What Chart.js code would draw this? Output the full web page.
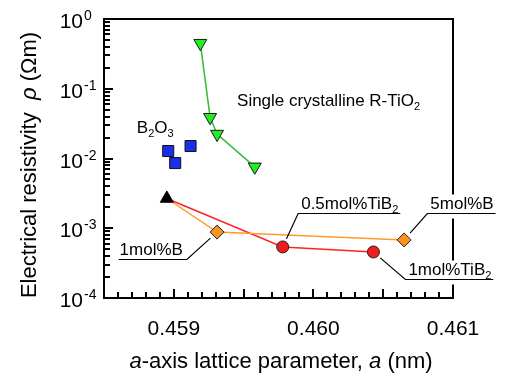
<!DOCTYPE html>
<html>
<head>
<meta charset="utf-8">
<script src="https://cdn.jsdelivr.net/npm/chart.js@4.4.0/dist/chart.umd.min.js"></script>
<style>
  body { margin: 0; background: #fff; }
</style>
</head>
<body>
<canvas id="chart" width="507" height="376"></canvas>
<script>
// a-axis lattice parameter (nm) vs electrical resistivity (Ohm m)
const singleX = [0.45919, 0.45926, 0.45931, 0.45958];
const singleY = [0.45, 0.039, 0.0224, 0.0076];
const b2o3X = [0.45896, 0.45901, 0.45912];
const b2o3Y = [0.0128, 0.0086, 0.0151];
const pureX = [0.45895];
const pureY = [0.00267];
// doped series start from the undoped point
const boronX = [0.45895, 0.45931, 0.46065];
const boronY = [0.00267, 0.00088, 0.00068];
const tib2X = [0.45895, 0.45978, 0.46043];
const tib2Y = [0.00267, 0.00054, 0.000457];

const xMin = 0.4585, xMax = 0.461;
const yDecades = [-4, -3, -2, -1, 0];

const FONT = '"Liberation Sans", Arial, sans-serif';

// text labels, placed in data coordinates; "_" marks a subscript character
const notes = [
    { text: 'B_2O_3', x: 0.458735, y: 0.0283 },
    { text: 'Single crystalline R-TiO_2', x: 0.459453, y: 0.069 },
    { text: '0.5mol%TiB_2', x: 0.459891, y: 0.001655, target: [tib2X[1], tib2Y[1]] },
    { text: '5mol%B', x: 0.460816, y: 0.001655, target: [boronX[2], boronY[2]] },
    { text: '1mol%TiB_2', x: 0.460659, y: 0.000187, target: [tib2X[2], tib2Y[2]] },
    { text: '1mol%B', x: 0.459094, y: 0.000362, target: [boronX[1], boronY[1]], alignRight: true }
];

const pts = (xs, ys) => xs.map((x, i) => ({ x: x, y: ys[i] }));

function parts(str) {
    const out = [];
    for (let i = 0; i < str.length; i++) {
        if (str[i] === '_') { out.push({ t: str[i + 1], sub: true }); i++; }
        else if (out.length && !out[out.length - 1].sub) out[out.length - 1].t += str[i];
        else out.push({ t: str[i], sub: false });
    }
    return out;
}

function drawRich(ctx, p, x, base, size) {
    let w = 0;
    p.forEach(s => {
        ctx.font = (s.sub ? Math.round(size * 0.65) : size) + 'px ' + FONT;
        if (x !== null) ctx.fillText(s.t, x + w, base + (s.sub ? 4 : 0));
        w += ctx.measureText(s.t).width;
    });
    return w;
}

const decor = {
    id: 'decor',
    afterDatasetsDraw(chart) {
        const { ctx, chartArea: a, scales: { x, y } } = chart;
        ctx.save();
        ctx.strokeStyle = '#000';
        ctx.fillStyle = '#000';
        ctx.lineWidth = 2;
        ctx.strokeRect(a.left, a.top, a.right - a.left, a.bottom - a.top);

        // ticks pointing into the plot
        const nx = Math.round((xMax - xMin) * 10000);
        for (let i = 0; i <= nx; i++) {
            const px = Math.round(x.getPixelForValue(xMin + i / 10000));
            const len = i % 5 === 0 ? 9 : 6;
            ctx.fillRect(px - 1, a.bottom - len, 2, len);
        }
        yDecades.forEach(d => {
            for (let m = 1; m <= 9; m++) {
                if (d === 0 && m > 1) break;
                const py = Math.round(y.getPixelForValue(m * Math.pow(10, d)));
                const len = m === 1 ? 9 : 6;
                ctx.fillRect(a.left, py - 1, len, 2);
            }
        });

        // y tick labels with exponents
        ctx.textBaseline = 'alphabetic';
        yDecades.forEach(d => {
            const py = y.getPixelForValue(Math.pow(10, d));
            ctx.font = '21px ' + FONT;
            ctx.textAlign = 'right';
            ctx.fillText('10', 83, py + 9);
            ctx.font = '14px ' + FONT;
            ctx.textAlign = 'left';
            ctx.fillText(String(d), 84, py + 1);
        });

        // annotations
        ctx.textAlign = 'left';
        notes.forEach(n => {
            const p = parts(n.text);
            const ax = x.getPixelForValue(n.x);
            const ay = y.getPixelForValue(n.y);
            const w = drawRich(ctx, p, null, 0, 17);
            if (!n.target) {
                drawRich(ctx, p, ax, ay + 6, 17);
                return;
            }
            const uy = Math.round(ay) + 0.5;
            let x0, x1, tx;
            if (n.alignRight) { x1 = ax; tx = ax - 4 - w; x0 = tx - 1; }
            else { x0 = ax; tx = ax + 3; x1 = tx + w + 2; }
            ctx.fillStyle = '#fff';
            ctx.fillRect(x0 - 2, uy - 19, x1 - x0 + 4, 24);
            ctx.fillStyle = '#000';
            drawRich(ctx, p, tx, uy - 5, 17);
            // leader line from the underline end toward the marker
            const mx = x.getPixelForValue(n.target[0]);
            const my = y.getPixelForValue(n.target[1]);
            const sx = n.alignRight ? x1 : x0;
            const dx = mx - sx, dy = my - uy, len = Math.hypot(dx, dy);
            const k = (len - 9) / len;
            ctx.lineWidth = 1.2;
            ctx.beginPath();
            ctx.moveTo(n.alignRight ? x0 : x1, uy);
            ctx.lineTo(sx, uy);
            ctx.lineTo(sx + dx * k, uy + dy * k);
            ctx.stroke();
        });
        ctx.restore();
    },
    afterDraw(chart) {
        const { ctx } = chart;
        ctx.save();
        ctx.fillStyle = '#000';
        ctx.textBaseline = 'alphabetic';
        ctx.textAlign = 'left';
        const seg = (list, cx, base) => {
            let w = 0;
            list.forEach(s => { ctx.font = s[1] + '22px ' + FONT; w += ctx.measureText(s[0]).width; });
            let px = cx - w / 2;
            list.forEach(s => {
                ctx.font = s[1] + '22px ' + FONT;
                ctx.fillText(s[0], px, base);
                px += ctx.measureText(s[0]).width;
            });
        };
        seg([['a', 'italic '], ['-axis lattice parameter, ', ''], ['a', 'italic '], [' (nm)', '']], 281, 368);
        ctx.translate(36, 165);
        ctx.rotate(-Math.PI / 2);
        seg([['Electrical resistivity  ', ''], ['\u03c1', 'italic '], [' (\u03a9m)', '']], 0, 0);
        ctx.restore();
    }
};

new Chart(document.getElementById('chart'), {
    type: 'scatter',
    data: {
        datasets: [
            {
                data: pts(pureX, pureY),
                pointStyle: 'triangle', pointRadius: 7.5,
                backgroundColor: '#000', borderColor: '#000', borderWidth: 1
            },
            {
                data: pts(singleX, singleY),
                showLine: true, borderColor: '#33bb33', borderWidth: 1.5,
                pointStyle: 'triangle', pointRotation: 180, pointRadius: 7.5,
                pointBackgroundColor: '#22ee22', pointBorderColor: '#1a1a1a', pointBorderWidth: 1
            },
            {
                data: pts(b2o3X, b2o3Y),
                pointStyle: 'rect', pointRadius: 7.8,
                pointBackgroundColor: '#1c2fe8', pointBorderColor: '#111', pointBorderWidth: 1
            },
            {
                data: pts(boronX, boronY),
                showLine: true, borderColor: '#ff9a2e', borderWidth: 1.5,
                pointStyle: 'rectRot', pointRadius: [0, 7, 7],
                pointBackgroundColor: '#f7931e', pointBorderColor: '#222', pointBorderWidth: 1
            },
            {
                data: pts(tib2X, tib2Y),
                showLine: true, borderColor: '#ff2222', borderWidth: 1.5,
                pointStyle: 'circle', pointRadius: [0, 6, 6],
                pointBackgroundColor: '#ee1c1c', pointBorderColor: '#222', pointBorderWidth: 1
            }
        ]
    },
    options: {
        responsive: false,
        animation: false,
        events: [],
        layout: { padding: { left: 104, right: 54, top: 19, bottom: 0 } },
        plugins: { legend: { display: false }, tooltip: { enabled: false } },
        scales: {
            x: {
                type: 'linear', min: xMin, max: xMax,
                grid: { display: false, drawTicks: false },
                border: { display: false },
                ticks: {
                    stepSize: 0.0005, autoSkip: false, maxRotation: 0, padding: 19,
                    color: '#000', font: { family: FONT, size: 21 },
                    callback: v => Math.abs(v * 1000 - Math.round(v * 1000)) < 1e-6 ? v.toFixed(3) : ''
                },
                afterFit: s => { s.height = 78; }
            },
            y: {
                type: 'logarithmic', min: 1e-4, max: 1, display: false
            }
        }
    },
    plugins: [decor]
});
</script>
</body>
</html>
